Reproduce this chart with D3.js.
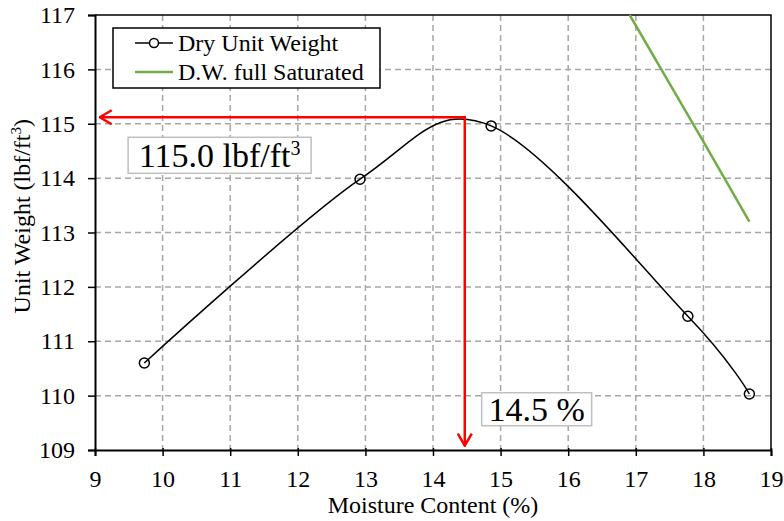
<!DOCTYPE html>
<html lang="en">
<head>
  <meta charset="UTF-8">
  <title>Compaction curve</title>
  <script src="https://cdn.jsdelivr.net/npm/d3@7"></script>
  <style>
    body { margin: 0; background: #fff; }
    svg text { font-family: "Liberation Serif", "Times New Roman", serif; fill: #000; }
    .grid line { stroke: #a6a6a6; stroke-width: 1.5; stroke-dasharray: 6 4; }
  </style>
</head>
<body>
  <script>
    // dry unit weight test points
    const moisture = [9.73, 12.92, 14.86, 17.77, 18.68];
    const dryWeight = [110.6, 113.98, 114.96, 111.46, 110.03];

    // full saturation line
    const satMoisture = [16.91, 17.5, 18.0, 18.68];
    const satWeight = [117.0, 115.74, 114.67, 113.2];

    const xTicks = [9, 10, 11, 12, 13, 14, 15, 16, 17, 18, 19];
    const yTicks = [109, 110, 111, 112, 113, 114, 115, 116, 117];

    const optMoisture = 14.47;
    const optWeight = 115.12;

    const w = 784, h = 521;
    const m = {left: 95, right: 13, top: 15, bottom: 71};
    const serif = "'Liberation Serif', 'Times New Roman', serif";

    const svg = d3.select("body").append("svg")
      .attr("width", w).attr("height", h)
      .style("font-family", serif);

    const x = d3.scaleLinear().domain([9, 19]).range([m.left, w - m.right]);
    const y = d3.scaleLinear().domain([109, 117]).range([h - m.bottom, m.top]);

    // gridlines
    const grid = svg.append("g").attr("class", "grid");
    grid.selectAll(".vx").data(xTicks.slice(1, -1)).enter().append("line")
      .attr("x1", d => x(d)).attr("x2", d => x(d))
      .attr("y1", y(117)).attr("y2", y(109));
    grid.selectAll(".hy").data(yTicks.slice(1, -1)).enter().append("line")
      .attr("x1", x(9)).attr("x2", x(19))
      .attr("y1", d => y(d)).attr("y2", d => y(d));

    // frame top/right
    svg.append("path")
      .attr("d", `M${x(9)},${y(117)}H${x(19)}V${y(109)}`)
      .attr("fill", "none").attr("stroke", "#000").attr("stroke-width", 1.5);

    // axes
    const xAxis = d3.axisBottom(x).tickValues(xTicks).tickSize(6).tickPadding(14).tickFormat(d3.format("d"));
    const yAxis = d3.axisLeft(y).tickValues(yTicks).tickSize(7).tickPadding(13).tickFormat(d3.format("d"));

    const gx = svg.append("g").attr("transform", `translate(0,${y(109)})`).call(xAxis);
    const gy = svg.append("g").attr("transform", `translate(${x(9)},0)`).call(yAxis);
    [gx, gy].forEach(g => {
      g.attr("font-family", null).attr("font-size", null);
      g.select(".domain").attr("stroke", "#000").attr("stroke-width", 2);
      g.selectAll(".tick line").attr("stroke", "#000").attr("stroke-width", 1.5);
      g.selectAll(".tick text").style("font-family", serif).style("font-size", "24px").attr("fill", "#000");
    });
    gx.selectAll(".tick line").attr("y1", -2);

    // axis titles
    svg.append("text")
      .attr("x", (x(9) + x(19)) / 2).attr("y", 513)
      .attr("text-anchor", "middle").style("font-size", "24px")
      .text("Moisture Content (%)");

    const yt = svg.append("text")
      .attr("transform", `translate(30,${y(113.3)}) rotate(-90)`)
      .attr("text-anchor", "middle").style("font-size", "24px");
    yt.append("tspan").text("Unit Weight (lbf/ft");
    yt.append("tspan").attr("dy", -9).style("font-size", "15px").text("3");
    yt.append("tspan").attr("dy", 9).text(")");

    // saturation line
    svg.append("path")
      .datum(satMoisture.map((d, i) => [d, satWeight[i]]))
      .attr("d", d3.line().x(d => x(d[0])).y(d => y(d[1])))
      .attr("fill", "none").attr("stroke", "#70ad47").attr("stroke-width", 2.5);

    // dry unit weight smooth curve
    const pts = moisture.map((d, i) => [d, dryWeight[i]]);
    svg.append("path")
      .datum(pts)
      .attr("d", d3.line().x(d => x(d[0])).y(d => y(d[1])).curve(d3.curveCatmullRom.alpha(0)))
      .attr("fill", "none").attr("stroke", "#000").attr("stroke-width", 1.5);

    svg.selectAll(".pt").data(pts).enter().append("circle")
      .attr("cx", d => x(d[0])).attr("cy", d => y(d[1])).attr("r", 5)
      .attr("fill", "none").attr("stroke", "#000").attr("stroke-width", 1.5);

    // red arrows
    const defs = svg.append("defs");
    defs.append("marker").attr("id", "arr")
      .attr("viewBox", "0 0 14 16").attr("refX", 13).attr("refY", 8)
      .attr("markerWidth", 14).attr("markerHeight", 16).attr("markerUnits", "userSpaceOnUse")
      .attr("orient", "auto")
      .append("path").attr("d", "M1,1L13,8L1,15")
      .attr("fill", "none").attr("stroke", "#ff0000").attr("stroke-width", 2.5);

    svg.append("line")
      .attr("x1", x(optMoisture)).attr("y1", y(optWeight))
      .attr("x2", x(9.07)).attr("y2", y(optWeight))
      .attr("stroke", "#ff0000").attr("stroke-width", 2.5).attr("marker-end", "url(#arr)");
    svg.append("line")
      .attr("x1", x(optMoisture)).attr("y1", y(optWeight) - 1.2)
      .attr("x2", x(optMoisture)).attr("y2", y(109.08))
      .attr("stroke", "#ff0000").attr("stroke-width", 2.5).attr("marker-end", "url(#arr)");

    // annotation boxes
    function box(x0, yc, bw, bh, build) {
      const g = svg.append("g");
      g.append("rect").attr("x", x0).attr("y", yc - bh / 2).attr("width", bw).attr("height", bh)
        .attr("fill", "#fff").attr("stroke", "#bfbfbf").attr("stroke-width", 1.5);
      const t = g.append("text").attr("x", x0 + bw / 2).attr("y", yc + 12)
        .attr("text-anchor", "middle").style("font-size", "34px");
      build(t);
    }
    box(x(9.49), y(114.42), 183, 36, t => {
      t.append("tspan").text("115.0 lbf/ft");
      t.append("tspan").attr("dy", -12).style("font-size", "20px").text("3");
    });
    box(x(14.72), y(109.75), 110, 33, t => {
      t.text("14.5 %");
    });

    // legend
    const lg = svg.append("g").attr("transform", "translate(113,28)");
    lg.append("rect").attr("width", 267).attr("height", 60)
      .attr("fill", "#fff").attr("stroke", "#000").attr("stroke-width", 1.5);
    const items = [
      {label: "Dry Unit Weight", color: "#000", marker: true, w: 1.5},
      {label: "D.W. full Saturated", color: "#70ad47", marker: false, w: 2.5}
    ];
    items.forEach((it, i) => {
      const yy = 15 + i * 29;
      lg.append("line").attr("x1", 22).attr("x2", 60).attr("y1", yy).attr("y2", yy)
        .attr("stroke", it.color).attr("stroke-width", it.w);
      if (it.marker) {
        lg.append("circle").attr("cx", 41).attr("cy", yy).attr("r", 4.5)
          .attr("fill", "#fff").attr("stroke", "#000").attr("stroke-width", 1.5);
      }
      lg.append("text").attr("x", 65).attr("y", yy + 8).style("font-size", "24px").text(it.label);
    });
  </script>
</body>
</html>
